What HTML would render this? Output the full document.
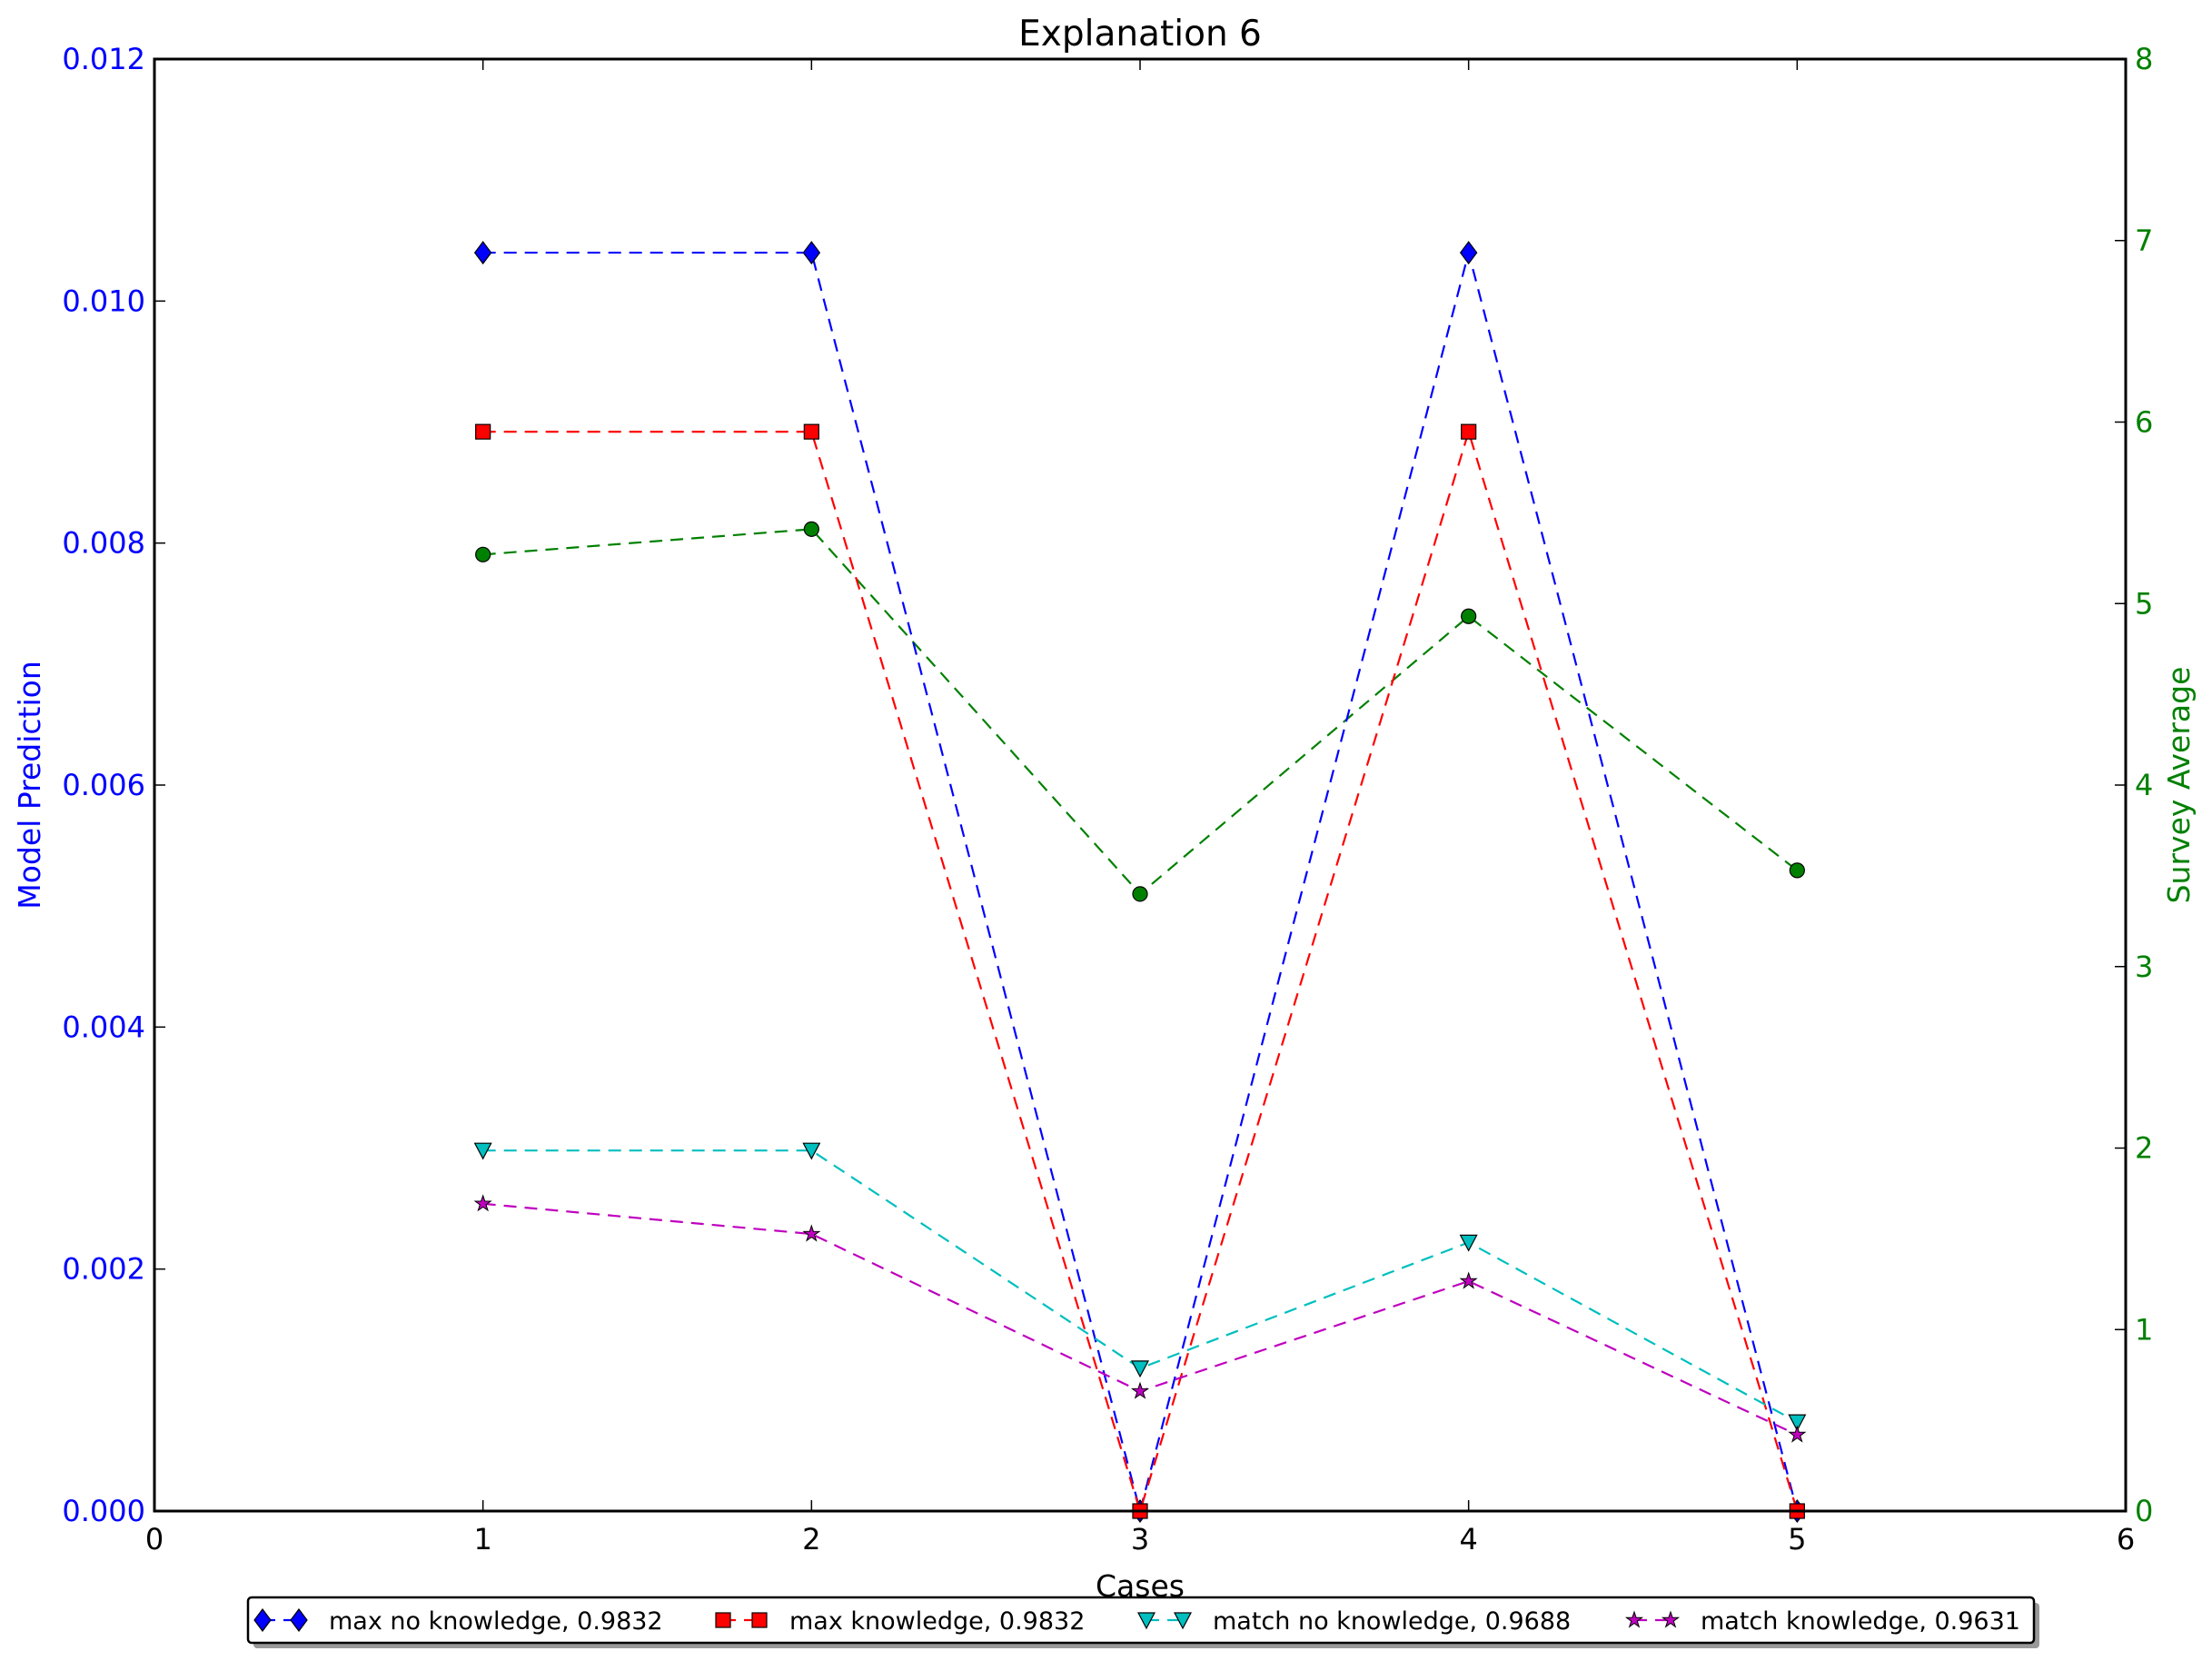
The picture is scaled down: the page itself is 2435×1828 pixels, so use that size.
<!DOCTYPE html>
<html><head><meta charset="utf-8"><style>
html,body{margin:0;padding:0;background:#fff;}
svg{display:block;font-family:"DejaVu Sans","Liberation Sans",sans-serif;}
</style></head><body>
<svg id="chart" width="2435" height="1828" viewBox="0 0 2435 1828"></svg>
<script>
const cases=[1,2,3,4,5];
const maxNoK=[0.0104,0.0104,0,0.0104,0];
const maxK=[0.00892,0.00892,0,0.00892,0];
const matchNoK=[0.00298,0.00298,0.00118,0.00222,0.000735];
const matchK=[0.00254,0.00229,0.00099,0.0019,0.00063];
const survey=[5.27,5.41,3.40,4.93,3.53];
const xTicks=[0,1,2,3,4,5,6];
const yTicks=["0.000","0.002","0.004","0.006","0.008","0.010","0.012"];
const y2Ticks=[0,1,2,3,4,5,6,7,8];
const legendLabels=["max no knowledge, 0.9832","max knowledge, 0.9832","match no knowledge, 0.9688","match knowledge, 0.9631"];

const L=170,R=2340,T=65,B=1663;
const sx=v=>L+(R-L)*v/6, sy=v=>B-(B-T)*v/0.012, sy2=v=>B-(B-T)*v/8;
const svg=document.getElementById('chart');const NS='http://www.w3.org/2000/svg';
function mk(t,a,p){const e=document.createElementNS(NS,t);for(const k in a)e.setAttribute(k,a[k]);(p||svg).appendChild(e);return e;}

let t=mk('text',{x:(L+R)/2,y:50,'text-anchor':'middle','font-size':39});t.textContent='Explanation 6';


xTicks.forEach(v=>{const x=sx(v);
 mk('line',{x1:x,y1:B,x2:x,y2:B-12,stroke:'#000','stroke-width':1.5});mk('line',{x1:x,y1:T,x2:x,y2:T+12,stroke:'#000','stroke-width':1.5});
 const e=mk('text',{x:x,y:B+42,'text-anchor':'middle','font-size':32});e.textContent=v;
 });
yTicks.forEach(s=>{const y=sy(parseFloat(s));
 mk('line',{x1:L,y1:y,x2:L+12,y2:y,stroke:'#000','stroke-width':1.5});
 const e=mk('text',{x:L-10,y:y+11,'text-anchor':'end','font-size':32,fill:'#0000ff'});e.textContent=s;
 });
y2Ticks.forEach(v=>{const y=sy2(v);
 mk('line',{x1:R,y1:y,x2:R-12,y2:y,stroke:'#000','stroke-width':1.5});
 const e=mk('text',{x:R+10,y:y+11,'font-size':32,fill:'#008000'});e.textContent=v;
 });

t=mk('text',{x:(L+R)/2,y:1757,'text-anchor':'middle','font-size':33});t.textContent='Cases';

t=mk('text',{x:0,y:0,'text-anchor':'middle','font-size':33,fill:'#0000ff',transform:`translate(44,${(T+B)/2}) rotate(-90)`});t.textContent='Model Prediction';

t=mk('text',{x:0,y:0,'text-anchor':'middle','font-size':33,fill:'#008000',transform:`translate(2410,${(T+B)/2}) rotate(-90)`});t.textContent='Survey Average';


function marker(type,x,y,col,g){
 if(type==='D')return mk('polygon',{points:`${x},${y-12} ${x+9},${y} ${x},${y+12} ${x-9},${y}`,fill:col,stroke:'#000','stroke-width':1.2},g);
 if(type==='s')return mk('rect',{x:x-8,y:y-8,width:16,height:16,fill:col,stroke:'#000','stroke-width':1.2},g);
 if(type==='v')return mk('polygon',{points:`${x-9},${y-8} ${x+9},${y-8} ${x},${y+9}`,fill:col,stroke:'#000','stroke-width':1.2},g);
 if(type==='o')return mk('circle',{cx:x,cy:y,r:8,fill:col,stroke:'#000','stroke-width':1.2},g);
 let p=[];for(let i=0;i<10;i++){const r=i%2?3.5:9,a=-Math.PI/2+i*Math.PI/5;p.push((x+r*Math.cos(a)).toFixed(1)+','+(y+r*Math.sin(a)).toFixed(1));}
 return mk('polygon',{points:p.join(' '),fill:col,stroke:'#000','stroke-width':1},g);
}
function series(vals,ys,col,type,name){
 const g=mk('g',{});
 mk('polyline',{points:vals.map((v,i)=>sx(cases[i])+','+ys(v)).join(' '),fill:'none',stroke:col,'stroke-width':2.2,'stroke-dasharray':'14,9'},g);
 vals.forEach((v,i)=>{const m=marker(type,sx(cases[i]),ys(v),col,g);});
}
series(survey,sy2,'#008000','o','survey-average-series');
series(maxNoK,sy,'#0000ff','D','max-no-knowledge-series');
series(maxK,sy,'#ff0000','s','max-knowledge-series');
series(matchNoK,sy,'#00bfbf','v','match-no-knowledge-series');
series(matchK,sy,'#bf00bf','*','match-knowledge-series');

mk('rect',{x:L,y:T,width:R-L,height:B-T,fill:'none',stroke:'#000','stroke-width':3});

// legend
const lg=mk('g',{});
mk('rect',{x:279,y:1764,width:1966,height:50,rx:4,fill:'#999'},lg);
mk('rect',{x:273,y:1758,width:1966,height:50,rx:4,fill:'#fff',stroke:'#000','stroke-width':2.5},lg);
const lx=[280,787,1253,1790],cols=['#0000ff','#ff0000','#00bfbf','#bf00bf'],types=['D','s','v','*'];
legendLabels.forEach((s,i)=>{const g=mk('g',{},lg);
 const x=lx[i],y=1783;mk('line',{x1:x+9,y1:y,x2:x+49,y2:y,stroke:cols[i],'stroke-width':2.2,'stroke-dasharray':'14,9'},g);
 marker(types[i],x+9,y,cols[i],g);marker(types[i],x+49,y,cols[i],g);
 const e=mk('text',{x:x+82,y:y+10,'font-size':27},g);e.textContent=s;});
</script>
</body></html>
